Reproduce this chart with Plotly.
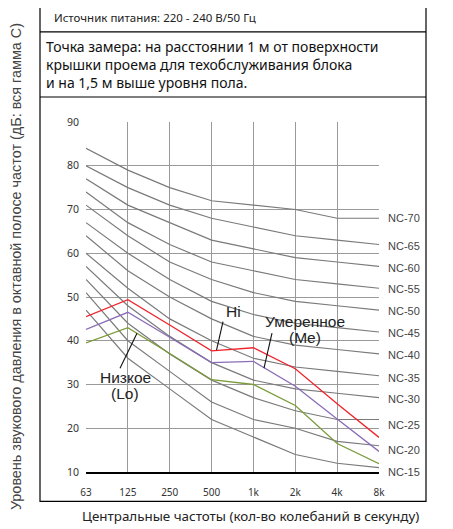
import plotly.graph_objects as go

# ---------------- data ----------------
freq_labels = ["63", "125", "250", "500", "1k", "2k", "4k", "8k"]

nc_names = ["NC-70", "NC-65", "NC-60", "NC-55", "NC-50", "NC-45",
            "NC-40", "NC-35", "NC-30", "NC-25", "NC-20", "NC-15"]
nc_70 = [84, 79, 75, 72, 71, 70, 68, 68]
nc_65 = [80, 75, 71, 68, 66, 64, 63, 62]
nc_60 = [77, 71, 67, 63, 61, 59, 58, 57]
nc_55 = [74, 67, 62, 58, 56, 54, 53, 52]
nc_50 = [71, 64, 58, 54, 51, 49, 48, 47]
nc_45 = [67, 60, 54, 49, 46, 44, 43, 42]
nc_40 = [64, 56, 50, 45, 41, 39, 38, 37]
nc_35 = [60, 52, 45, 40, 36, 34, 33, 32]
nc_30 = [57, 48, 41, 35, 31, 29, 28, 27]
nc_25 = [54, 44, 37, 31, 27, 24, 22, 22]
nc_20 = [51, 40, 33, 26, 22, 20, 17, 16]
nc_15 = [47, 36, 29, 22, 18, 14, 12, 11]
nc_curves = [nc_70, nc_65, nc_60, nc_55, nc_50, nc_45,
             nc_40, nc_35, nc_30, nc_25, nc_20, nc_15]

hi_values = [45.5, 49.4, 43.6, 37.7, 38.4, 33.6, 25.6, 17.9]
me_values = [42.6, 46.5, 40.8, 35.0, 35.3, 29.6, 22.1, 14.7]
lo_values = [39.5, 43.0, 37.1, 31.1, 30.0, 25.2, 16.5, 11.9]

y_ticks = [10, 20, 30, 40, 50, 60, 70, 80, 90]

# ---------------- layout geometry ----------------
# the page body adds an 8px margin, so the figure is drawn 8px smaller
OFF = 8
W, H = 453 - OFF, 529 - OFF
L, R, T, B = 86 - OFF, 453 - 379, 122 - OFF, 529 - 471.7
PW, PH = W - L - R, H - T - B


def px(x):
    return (x - OFF - L) / PW


def py(y):
    return (H - B - (y - OFF)) / PH


x_idx = list(range(len(freq_labels)))

fig = go.Figure()

for name, vals in zip(nc_names, nc_curves):
    fig.add_trace(go.Scatter(x=x_idx, y=vals, mode="lines", name=name,
                             line=dict(color="#7a7a7a", width=1.2),
                             showlegend=False, hoverinfo="skip"))

fig.add_trace(go.Scatter(x=x_idx, y=lo_values, mode="lines", name="Lo",
                         line=dict(color="#7c9b3a", width=1.3), showlegend=False))
fig.add_trace(go.Scatter(x=x_idx, y=me_values, mode="lines", name="Me",
                         line=dict(color="#8b6cb8", width=1.3), showlegend=False))
fig.add_trace(go.Scatter(x=x_idx, y=hi_values, mode="lines", name="Hi",
                         line=dict(color="#f0232b", width=1.3), showlegend=False))

shapes = []
shapes.append(dict(type="rect", xref="paper", yref="paper",
                   x0=px(40), x1=px(426), y0=py(501), y1=py(5),
                   line=dict(color="#000", width=1.2), layer="above"))
for yy in (32, 97):
    shapes.append(dict(type="line", xref="paper", yref="paper",
                       x0=px(40), x1=px(426), y0=py(yy), y1=py(yy),
                       line=dict(color="#000", width=1.2)))
for (x0, y0, x1, y1) in [(223, 321.5, 216.5, 350), (120, 368, 137, 333), (272, 333, 264, 368)]:
    shapes.append(dict(type="line", xref="paper", yref="paper",
                       x0=px(x0), y0=py(y0), x1=px(x1), y1=py(y1),
                       line=dict(color="#111", width=1.1)))

ann = []
txt_font = "Noto Sans, Lato, sans-serif"
ann.append(dict(text="Источник питания: 220 - 240 В/50 Гц", xref="paper", yref="paper",
                x=px(52), y=py(18), xanchor="left", yanchor="middle", showarrow=False,
                font=dict(family=txt_font, size=11.5, color="#222")))
ann.append(dict(text="Точка замера: на расстоянии 1 м от поверхности<br>"
                     "крышки проема для техобслуживания блока<br>"
                     "и на 1,5 м выше уровня пола.",
                xref="paper", yref="paper", x=px(44), y=py(64.5), xanchor="left",
                yanchor="middle", align="left", showarrow=False,
                font=dict(family=txt_font, size=14, color="#111")))

nc_label_y = [68, 61.6, 56.7, 51.8, 46.8, 41.7, 36.7, 31.6, 26.7, 20.7, 15.1, 10]
for name, yv in zip(nc_names, nc_label_y):
    ann.append(dict(text=name, xref="paper", yref="y", x=px(386), y=yv,
                    xanchor="left", yanchor="middle", showarrow=False,
                    font=dict(family="Liberation Sans, Arial, sans-serif", size=11, color="#444")))

lab_font = dict(family="Liberation Sans, Arial, sans-serif", size=15.5, color="#222")
for text, x, y in [("Hi", 233, 311), ("Низкое", 125, 377), ("(Lo)", 125, 393),
                   ("Умеренное", 304.5, 321.5), ("(Me)", 304.5, 337)]:
    ann.append(dict(text=text, xref="paper", yref="paper", x=px(x), y=py(y),
                    xanchor="center", yanchor="middle", showarrow=False, font=lab_font))

ann.append(dict(text="Уровень звукового давления в октавной полосе частот (дБ: вся гамма С)",
                xref="paper", yref="paper", x=px(16), y=py(267), textangle=-90,
                xanchor="center", yanchor="middle", showarrow=False,
                font=dict(family="Liberation Sans, Arial, sans-serif", size=14.4, color="#444")))
ann.append(dict(text="Центральные частоты (кол-во колебаний в секунду)",
                xref="paper", yref="paper", x=px(250), y=py(516),
                xanchor="center", yanchor="middle", showarrow=False,
                font=dict(family=txt_font, size=13.4, color="#222")))

fig.update_layout(
    width=W, height=H, margin=dict(l=L, r=R, t=T, b=B, autoexpand=False),
    paper_bgcolor="white", plot_bgcolor="white",
    shapes=shapes, annotations=ann, showlegend=False,
    xaxis=dict(range=[0, 7], tickvals=x_idx, ticktext=freq_labels,
               showgrid=True, gridcolor="#9a9a9a", gridwidth=1,
               zeroline=False, showline=True, linecolor="#000", linewidth=1.5,
               ticks="", ticklabelstandoff=10,
               tickfont=dict(family=txt_font, size=10, color="#333")),
    yaxis=dict(range=[10, 90], tickvals=y_ticks,
               showgrid=True, gridcolor="#9a9a9a", gridwidth=1,
               zeroline=False, showline=False, ticks="", ticklabelstandoff=6,
               tickfont=dict(family=txt_font, size=10.5, color="#333")),
)

fig.write_html("out.html")
